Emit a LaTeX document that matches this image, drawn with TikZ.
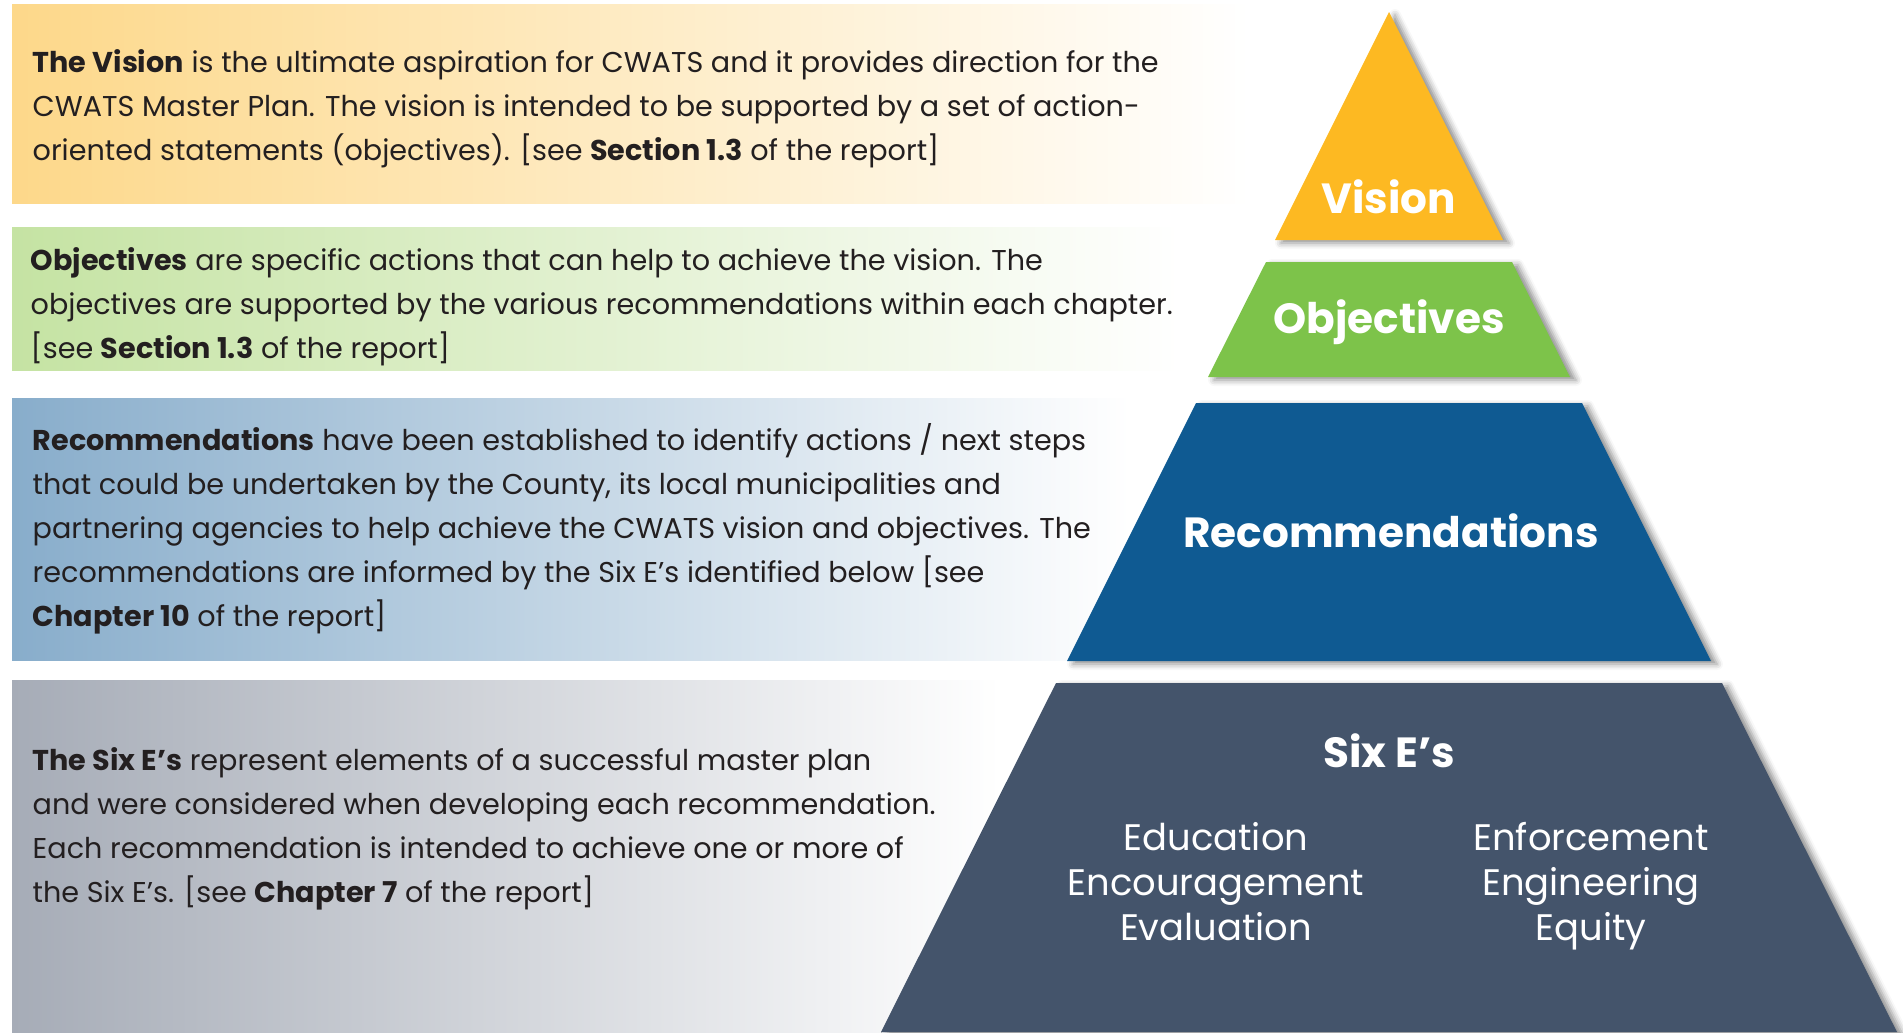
\documentclass[tikz,border=0pt]{standalone}
\usepackage{fontspec}
\setmainfont{Poppins}
\usetikzlibrary{shadows.blur}

\definecolor{bandvis}{RGB}{253,216,138}
\definecolor{bandobj}{RGB}{197,227,163}
\definecolor{bandrec}{RGB}{136,173,203}
\definecolor{bandsix}{RGB}{166,172,183}
\definecolor{visfill}{RGB}{253,185,34}
\definecolor{objfill}{RGB}{125,195,74}
\definecolor{recfill}{RGB}{15,90,146}
\definecolor{sixfill}{RGB}{68,84,107}
\definecolor{ink}{RGB}{35,31,32}

\begin{document}
\begin{tikzpicture}
  [x=0.1mm,y=-0.1mm,
   txt/.style={anchor=west,inner sep=0pt,align=left,text=ink,
     font=\fontsize{8.15}{12.5}\selectfont},
   layer/.style={blur shadow={shadow xshift=0.6mm,shadow yshift=-0.3mm,
     shadow blur radius=0.6mm,shadow opacity=45}},
   tier/.style={anchor=base,inner sep=0pt,text=white,
     font=\fontsize{12}{14}\selectfont\bfseries},
   sixe/.style={anchor=base,inner sep=0pt,text=white,
     font=\fontsize{10.5}{12.8}\selectfont}]
  \useasboundingbox (0,0) rectangle (1903,1032);

  % colour bands, fading out to the right
  \foreach \c/\ya/\yb/\xb in {bandvis/4/203/1250, bandobj/227/370/1180,
      bandrec/398/660/1130, bandsix/680/1032/1000}
    \shade[left color=\c,right color=white] (12,\ya) rectangle (\xb,\yb);

  % the pyramid
  \fill[visfill,layer] (1389,12) -- (1503,240) -- (1275,240) -- cycle;
  \fill[objfill,layer] (1266,262) -- (1512,262) -- (1570,377) -- (1208,377) -- cycle;
  \fill[recfill,layer] (1196,403) -- (1582,403) -- (1711,661) -- (1067,661) -- cycle;
  \fill[sixfill,layer] (1056,683) -- (1722,683) -- (1897,1032) -- (881,1032) -- cycle;

  \node[tier] (vision) at (1389,213) {Vision};
  \node[tier] (objectives) at (1389,333) {Objectives};
  \node[tier] (recs) at (1391,547) {Recommendations};
  \node[tier] (sixes) at (1389,767) {Six E’s};

  \foreach \w [count=\i] in {Education,Encouragement,Evaluation}
    \node[sixe] (left\i) at (1216,805+45*\i) {\w};
  \foreach \w [count=\i] in {Enforcement,Engineering,Equity}
    \node[sixe] (right\i) at (1591,805+45*\i) {\w};

  % descriptions
  \node[txt] (visiontxt) at (32,109)
    {\textbf{The Vision} is the ultimate aspiration for CWATS and it provides direction for the\\
     CWATS Master Plan. The vision is intended to be supported by a set of action-\\
     oriented statements (objectives). [see \textbf{Section 1.3} of the report]};
  \node[txt] (objtxt) at (30,307)
    {\textbf{Objectives} are specific actions that can help to achieve the vision. The\\
     objectives are supported by the various recommendations within each chapter.\\
     {[}see \textbf{Section 1.3} of the report]};
  \node[txt] (rectxt) at (32,529)
    {\textbf{Recommendations} have been established to identify actions / next steps\\
     that could be undertaken by the County, its local municipalities and\\
     partnering agencies to help achieve the CWATS vision and objectives. The\\
     recommendations are informed by the Six E’s identified below [see\\
     \textbf{Chapter 10} of the report]};
  \node[txt] (sixtxt) at (32,829)
    {\textbf{The Six E’s} represent elements of a successful master plan\\
     and were considered when developing each recommendation.\\
     Each recommendation is intended to achieve one or more of\\
     the Six E’s. [see \textbf{Chapter 7} of the report]};

\end{tikzpicture}
\end{document}
